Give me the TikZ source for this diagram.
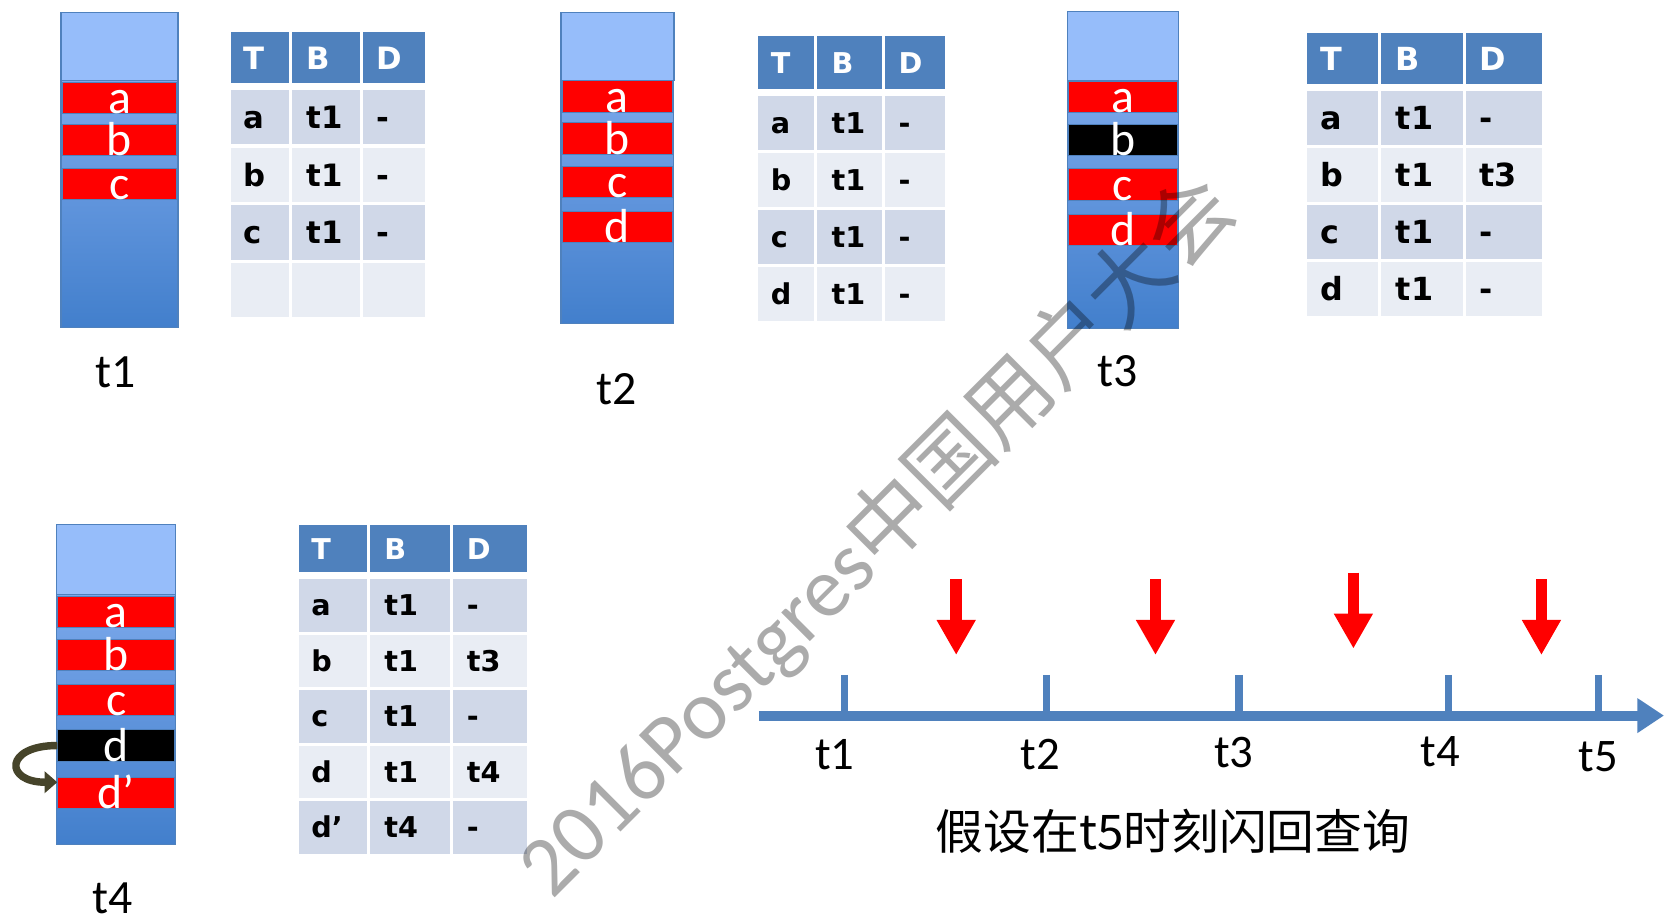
\documentclass[tikz,border=0pt]{standalone}
\usepackage{fontspec}
\setmainfont{Carlito}
\newfontfamily\tabfont{DejaVu Sans}
\newfontfamily\cjk{Noto Sans CJK SC}
\usetikzlibrary{arrows.meta}

\definecolor{hdblue}{RGB}{79,129,189}
\definecolor{rowdark}{RGB}{208,216,232}
\definecolor{rowlight}{RGB}{233,237,244}
\definecolor{coltop}{RGB}{150,189,250}
\definecolor{colmid}{RGB}{140,180,244}
\definecolor{colbot}{RGB}{66,127,204}
\definecolor{olivearr}{RGB}{70,68,42}

\tikzset{
  colbody/.style={draw=hdblue, line width=1pt, top color=colmid, bottom color=colbot, inner sep=0pt, anchor=north},
  coltopbox/.style={draw=hdblue, line width=1.2pt, fill=coltop, inner sep=0pt, anchor=north},
  band/.style={draw=hdblue, line width=1pt, inner sep=0pt, minimum height=29.5pt, text height=29.5pt, text depth=0pt, text=white, font=\fontsize{45}{54}\selectfont},
  steplbl/.style={anchor=base, inner sep=0pt, font=\fontsize{45}{54}\selectfont},
  hdtxt/.style={anchor=base west, text=white, inner sep=0pt, font=\tabfont\bfseries\fontsize{\tfs}{\tfs}\selectfont},
  celltxt/.style={anchor=base west, inner sep=0pt, font=\tabfont\bfseries\fontsize{\tfs}{\tfs}\selectfont},
  timeaxis/.style={draw=hdblue, line width=9.5pt, -{Triangle[length=25pt,width=31pt]}},
  tickmark/.style={draw=hdblue, line width=7pt},
  downarrow/.style={draw=red, line width=11pt, -{Triangle[length=33pt,width=34.5pt]}},
  turnarrow/.style={draw=olivearr, line width=7pt, -{Triangle[length=12pt,width=20pt]}},
  capline/.style={inner sep=0pt, font=\cjk\fontsize{45}{54}\selectfont},
  wmark/.style={rotate=45, text=black, text opacity=0.33, inner sep=0pt, font=\fontsize{80}{92}\selectfont}
}

% table: name, origin, three widths, header height, row pitch, font size, rows
\newcommand{\tabgrid}[9]{%
  \begin{scope}[shift={(#2)}]
    \def\tfs{#8}
    \pgfmathsetmacro\xb{#3+3}
    \pgfmathsetmacro\xc{#3+#4+6}
    \pgfmathsetmacro\hb{#6/2+0.38*#8}
    \fill[hdblue] (0,0) rectangle ++(#3,#6);
    \fill[hdblue] (\xb,0) rectangle ++(#4,#6);
    \fill[hdblue] (\xc,0) rectangle ++(#5,#6);
    \node[hdtxt] (#1-h1) at (12,\hb) {T};
    \node[hdtxt] (#1-h2) at (\xb+13.5,\hb) {B};
    \node[hdtxt] (#1-h3) at (\xc+12.5,\hb) {D};
    \foreach \ta/\tb/\tc [count=\i] in {#9} {
      \pgfmathsetmacro\ry{#6+6.5+(\i-1)*#7}
      \pgfmathsetmacro\rb{\ry+(#7-3)/2+0.37*#8}
      \ifodd\i\relax\def\rc{rowdark}\else\def\rc{rowlight}\fi
      \fill[\rc] (0,\ry) rectangle ++(#3,#7-3);
      \fill[\rc] (\xb,\ry) rectangle ++(#4,#7-3);
      \fill[\rc] (\xc,\ry) rectangle ++(#5,#7-3);
      \node[celltxt] (#1-\i-1) at (12,\rb) {\ta};
      \node[celltxt] (#1-\i-2) at (\xb+13.5,\rb) {\tb};
      \node[celltxt] (#1-\i-3) at (\xc+12.5,\rb) {\tc};
    }
  \end{scope}}

\begin{document}
\begin{tikzpicture}[x=1pt,y=-1pt]
\path[use as bounding box, fill=white] (0,0) rectangle (1568,870);

% t1
\node[colbody, minimum width=110.2, minimum height=296.7] (col1) at (112.6,11.3) {};
\node[coltopbox, minimum width=110.2, minimum height=64.1] (top1) at (112.6,11.3) {};
\foreach \lt/\yy [count=\k] in {a/92.3, b/131.9, c/173.4}
  \node[band, fill=red, minimum width=108] (c1-\k) at (112.6,\yy) {\lt};
\node[steplbl] (lbl1) at (109,365) {t1};
\tabgrid{tb1}{217.7,30.2}{54.6}{64}{58.4}{48}{54.3}{29}{a/t1/-, b/t1/-, c/t1/-, \null/\null/\null}

% t2
\node[colbody, minimum width=106.4, minimum height=293.1] (col2) at (581.8,11.3) {};
\node[coltopbox, minimum width=106.4, minimum height=64.1] (top2) at (581.8,11.3) {};
\foreach \lt/\yy [count=\k] in {a/91, b/130.5, c/171.5, d/213.9}
  \node[band, fill=red, minimum width=104.4] (c2-\k) at (581.8,\yy) {\lt};
\node[steplbl] (lbl2) at (581,381.6) {t2};
\tabgrid{tb2}{714.3,34}{52.7}{61}{56.5}{49.9}{53.7}{27}{a/t1/-, b/t1/-, c/t1/-, d/t1/-}

% t3
\node[colbody, minimum width=104.8, minimum height=298.8] (col3) at (1058.1,10) {};
\node[coltopbox, minimum width=104.8, minimum height=65.4] (top3) at (1058.1,10) {};
\foreach \lt/\yy/\cl [count=\k] in {a/91.1/red, b/132/black, c/173.9/red, d/216.5/red}
  \node[band, fill=\cl, minimum width=102.8] (c3-\k) at (1058.1,\yy) {\lt};
\node[steplbl] (lbl3) at (1053.5,364.4) {t3};
\tabgrid{tb3}{1232,31.4}{66.6}{76.6}{72}{48.1}{53.7}{30}{a/t1/-, b/t1/t3, c/t1/-, d/t1/-}

% t4
\node[colbody, minimum width=112, minimum height=301.8] (col4) at (109.5,493.8) {};
\node[coltopbox, minimum width=112, minimum height=65.9] (top4) at (109.5,493.8) {};
\foreach \lt/\yy/\cl [count=\k] in {a/576.4/red, b/617.4/red, c/659.5/red, d/702.5/black, d’/747.1/red}
  \node[band, fill=\cl, minimum width=110] (c4-\k) at (109.5,\yy) {\lt};
\draw[turnarrow] (c4-4.west) .. controls +(-50,0) and +(-50,0) .. ([yshift=10pt]c4-5.west);
\node[steplbl] (lbl4) at (106,861) {t4};
\tabgrid{tb4}{281.3,494.7}{64.3}{75.7}{69.1}{44.6}{52.3}{27}{a/t1/-, b/t1/t3, c/t1/-, d/t1/t4, d’/t4/-}

% time line
\coordinate (ax0) at (715,674.3);
\coordinate (ax1) at (1568,674.3);
\draw[timeaxis] (ax0) -- (ax1);
\foreach \x/\lx/\ly/\lab [count=\j] in {795.6/786.8/725/t1, 986/980.5/725/t2, 1167.7/1162.6/723/t3, 1364.8/1357.5/722.5/t4, 1506.4/1505.9/727/t5} {
  \coordinate (tk\j) at (\x,636);
  \draw[tickmark] (tk\j) -- (tk\j |- ax0);
  \node[steplbl, font=\fontsize{44}{52}\selectfont] (tl\j) at (\lx,\ly) {\lab};
}
\foreach \x/\yt [count=\j] in {901/545.6, 1088.8/545.6, 1275.3/539.6, 1452.5/545.6} {
  \coordinate (rs\j) at (\x,\yt);
  \coordinate (re\j) at (\x,\yt+71.6);
  \draw[downarrow] (rs\j) -- (re\j);
}
\node[capline] (cap) at (1105.4,783.7) {假设在t5时刻闪回查询};

% watermark
\node[wmark] (wm) at (825.5,505) {2016Postgres{\cjk 中国用户大会}};

\end{tikzpicture}
\end{document}
